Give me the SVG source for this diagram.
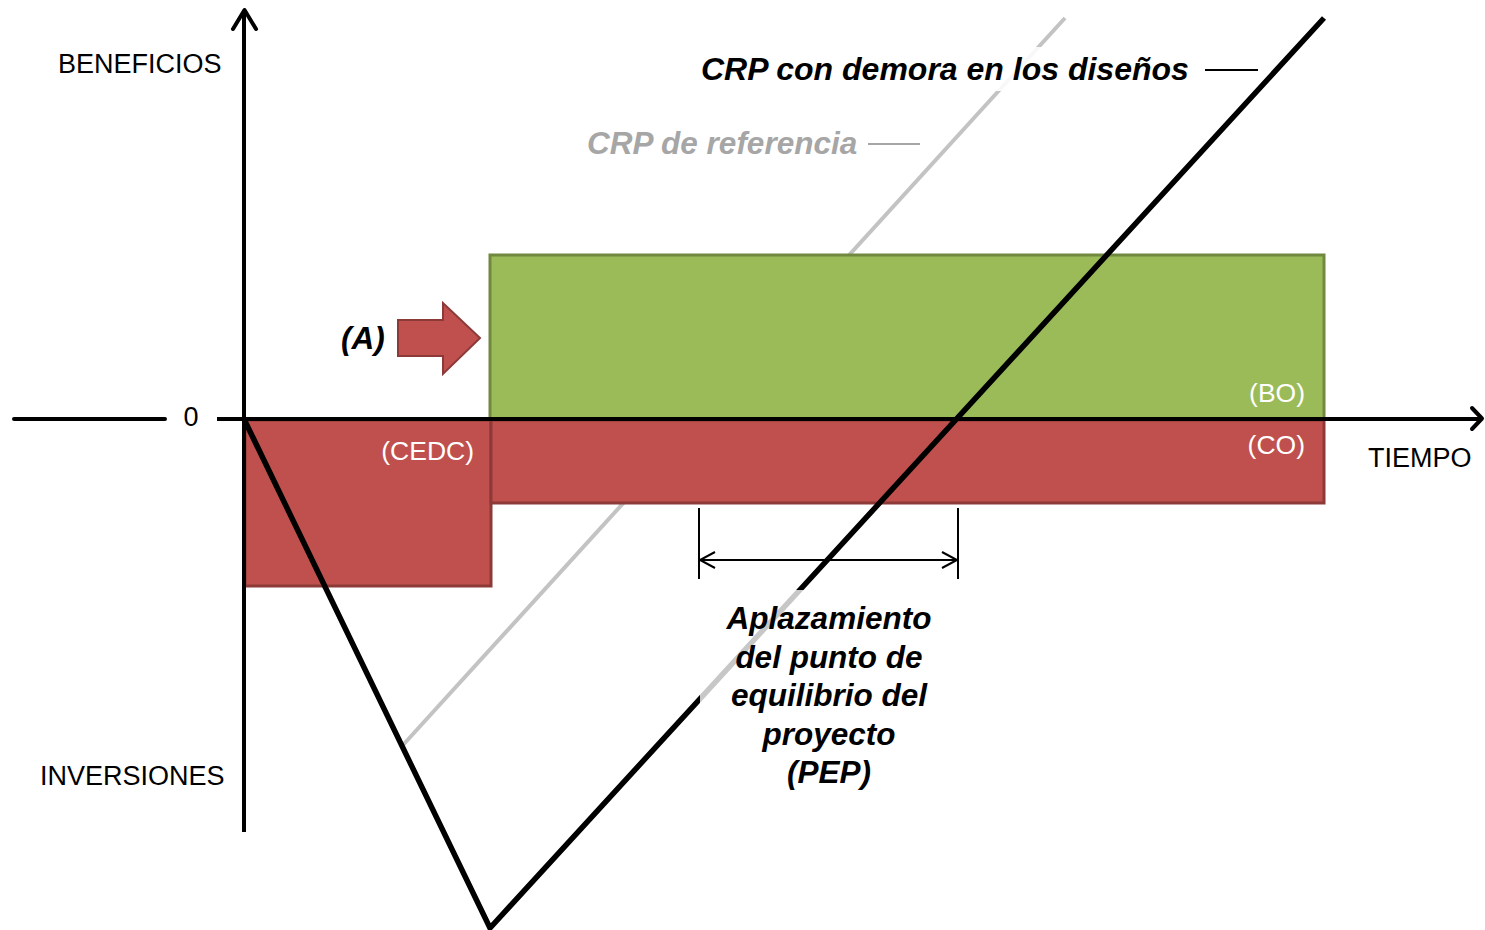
<svg xmlns="http://www.w3.org/2000/svg" width="1485" height="930" viewBox="0 0 1485 930">
<style>
.lbl{font-family:"Liberation Sans",Arial,sans-serif;font-size:27px;fill:#000}
.wl{font-family:"Liberation Sans",Arial,sans-serif;font-size:26.5px;fill:#fff}
.bi{font-family:"Liberation Sans",Arial,sans-serif;font-size:31.5px;font-weight:bold;font-style:italic;fill:#000}
.red{fill:#C0504D;stroke:#8C3A38;stroke-width:3}
.green{fill:#9BBB59;stroke:#71893F;stroke-width:3}
.axis{stroke:#000;stroke-width:4;fill:none}
.veil{fill:#fff;fill-opacity:0.78}
</style>
<rect width="1485" height="930" fill="#fff"/>
<g id="crp-referencia-line">
<line x1="403" y1="745" x2="1065" y2="18" stroke="#C3C3C3" stroke-width="4"/>
</g>
<g id="cedc"><rect class="red" x="245" y="420" width="246" height="166"/></g>
<g id="co"><rect class="red" x="491" y="420" width="833" height="83"/></g>
<g id="bo"><rect class="green" x="490" y="255" width="834" height="164"/></g>
<g id="connectors">
<line class="axis" x1="14" y1="419" x2="165" y2="419" stroke-linecap="round"/>
<line class="axis" x1="217" y1="419" x2="1481" y2="419"/>
<polyline class="axis" points="1472,408 1482,418.5 1472,429" stroke-linecap="round" stroke-linejoin="round"/>
<line class="axis" x1="244" y1="832" x2="244" y2="10"/>
<polyline class="axis" points="233,29 244.5,10 256,29" stroke-linecap="round" stroke-linejoin="round"/>
<polyline points="244,419 490,928 1324,18" fill="none" stroke="#000" stroke-width="5.5"/>
<line x1="699" y1="508" x2="699" y2="579" stroke="#000" stroke-width="2"/>
<line x1="958" y1="508" x2="958" y2="579" stroke="#000" stroke-width="2"/>
<line x1="700" y1="560" x2="957" y2="560" stroke="#000" stroke-width="2"/>
<polyline points="715,552 700,560 715,568" fill="none" stroke="#000" stroke-width="2"/>
<polyline points="942,552 957,560 942,568" fill="none" stroke="#000" stroke-width="2"/>
<line x1="1205" y1="70" x2="1258" y2="70" stroke="#000" stroke-width="2"/>
<line x1="868" y1="144" x2="920" y2="144" stroke="#A6A6A6" stroke-width="2"/>
</g>
<g id="arrow-a">
<polygon points="398,320 443,320 443,303 480,338 443,374 443,356 398,356" fill="#C0504D" stroke="#8C3A38" stroke-width="2"/>
<text class="bi" x="341" y="349">(A)</text>
</g>
<g id="labels">
<text class="lbl" x="58" y="73">BENEFICIOS</text>
<text class="lbl" x="40" y="785">INVERSIONES</text>
<text class="lbl" x="191" y="426" text-anchor="middle">0</text>
<text class="lbl" x="1368" y="467">TIEMPO</text>
<text class="wl" x="474" y="460" text-anchor="end">(CEDC)</text>
<text class="wl" x="1305" y="402" text-anchor="end">(BO)</text>
<text class="wl" x="1305" y="454" text-anchor="end">(CO)</text>
</g>
<g id="title-demora">
<rect class="veil" x="696" y="47" width="500" height="44" style="fill-opacity:0.88"/>
<text class="bi" x="701" y="80" style="font-size:32px">CRP con demora en los diseños</text>
</g>
<g id="title-referencia">
<text class="bi" x="587" y="154" style="fill:#A6A6A6">CRP de referencia</text>
</g>
<g id="pep">
<rect class="veil" x="700" y="590" width="258" height="210"/>
<text class="bi" text-anchor="middle" x="829" y="629">Aplazamiento</text>
<text class="bi" text-anchor="middle" x="829" y="667.5">del punto de</text>
<text class="bi" text-anchor="middle" x="829" y="706">equilibrio del</text>
<text class="bi" text-anchor="middle" x="829" y="744.5">proyecto</text>
<text class="bi" text-anchor="middle" x="829" y="783">(PEP)</text>
</g>
</svg>
